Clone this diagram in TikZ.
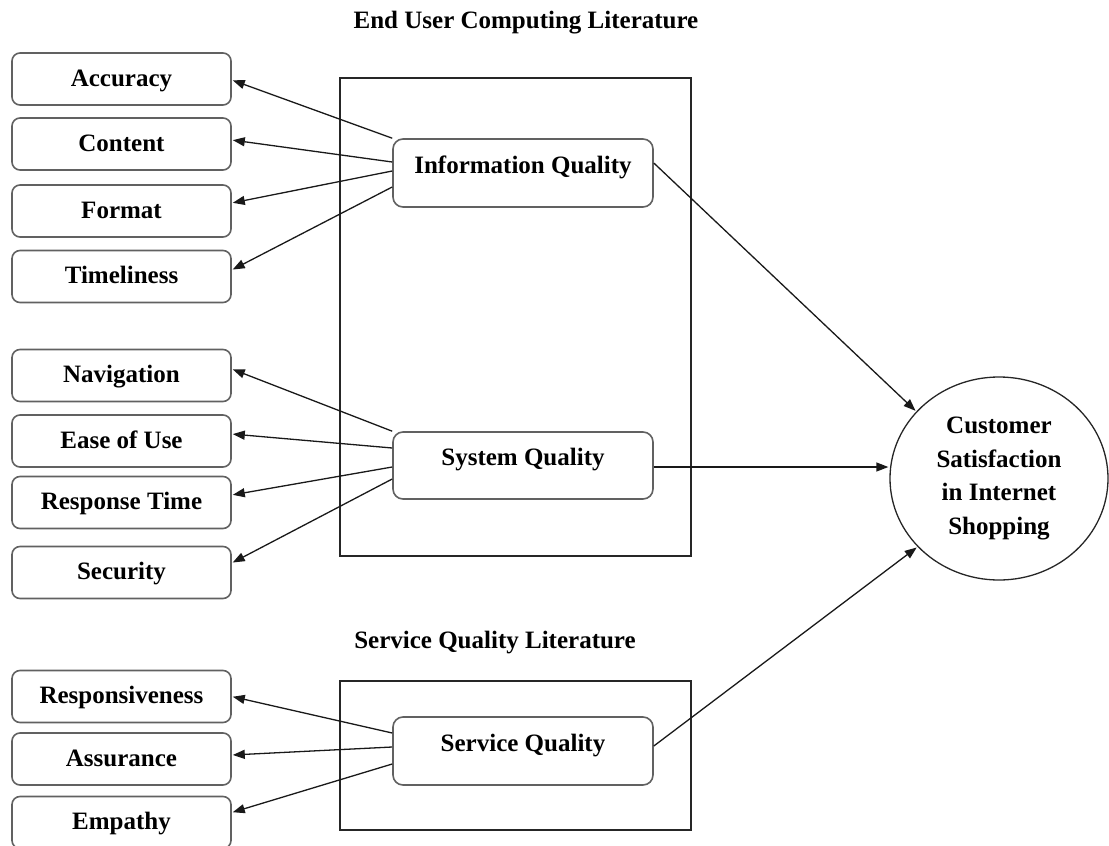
\documentclass[tikz,border=0pt]{standalone}
\usepackage{fontspec}
\setmainfont{Liberation Serif}
\usetikzlibrary{shapes.geometric,arrows.meta}
\begin{document}
\begin{tikzpicture}[x=1pt,y=-1pt,
  txt/.style={font=\fontsize{25}{33.5}\selectfont\bfseries},
  leaf/.style={txt, draw=black!62, line width=1.6pt, rounded corners=8pt,
    minimum width=219pt, minimum height=52pt, inner sep=0pt,
    text height=17pt, text depth=3pt},
  mid/.style={txt, draw=black!62, line width=1.6pt, rounded corners=10pt,
    minimum width=260pt, minimum height=68pt, inner sep=0pt,
    text height=10pt, text depth=10pt},
  frame/.style={draw=black!85, line width=1.5pt},
  arr/.style={draw=black!90, line width=1.3pt, -{Triangle[length=12pt,width=9pt]}, shorten >=1pt}
]
\useasboundingbox (0,0) rectangle (1109,846);

% titles
\node[txt, anchor=base] (t1) at (526,28) {End User Computing Literature};
\node[txt, anchor=base] (t2) at (495,648) {Service Quality Literature};

% frames
\draw[frame] (340,78) rectangle (691,556);
\draw[frame] (340,681) rectangle (691,830);

% left boxes
\node[leaf] (acc) at (121.5,79) {Accuracy};
\node[leaf] (con) at (121.5,144) {Content};
\node[leaf] (for) at (121.5,211) {Format};
\node[leaf] (tim) at (121.5,276.5) {Timeliness};
\node[leaf] (nav) at (121.5,375.5) {Navigation};
\node[leaf] (eas) at (121.5,441) {Ease of Use};
\node[leaf] (res) at (121.5,502.5) {Response Time};
\node[leaf] (sec) at (121.5,572.5) {Security};
\node[leaf] (rsp) at (121.5,696.5) {Responsiveness};
\node[leaf] (ass) at (121.5,759) {Assurance};
\node[leaf] (emp) at (121.5,822.5) {Empathy};

% middle nodes
\node[mid, fill=white] (iq) at (523,173) {Information Quality};
\node[mid, fill=white, minimum height=67pt] (sq) at (523,465.5) {System Quality};
\node[mid, fill=white] (svq) at (523,751) {Service Quality};

% customer satisfaction
\node[txt, ellipse, draw=black!85, line width=1.3pt, minimum width=218pt,
  minimum height=203pt, inner sep=0pt, align=center] (cs) at (999,478.5)
  {Customer\\Satisfaction\\in Internet\\Shopping};

% arrows to left boxes
\draw[arr] (iq.north west) -- ([yshift=-1pt]acc.east);
\draw[arr] ([yshift=11pt]iq.west) -- ([yshift=4pt]con.east);
\draw[arr] ([yshift=2pt]iq.west) -- ([yshift=8pt]for.east);
\draw[arr] ([yshift=-14pt]iq.west) -- ([yshift=6.5pt]tim.east);

\draw[arr] (sq.north west) -- ([yshift=6.5pt]nav.east);
\draw[arr] ([yshift=17.5pt]sq.west) -- ([yshift=7pt]eas.east);
\draw[arr] ([yshift=-1.5pt]sq.west) -- ([yshift=7.5pt]res.east);
\draw[arr] ([yshift=-13.5pt]sq.west) -- ([yshift=9.5pt]sec.east);

\draw[arr] ([yshift=18pt]svq.west) -- ([yshift=0pt]rsp.east);
\draw[arr] ([yshift=4pt]svq.west) -- ([yshift=4pt]ass.east);
\draw[arr] ([yshift=-13pt]svq.west) -- ([yshift=10pt]emp.east);

% arrows to customer satisfaction
\draw[arr] ([yshift=10pt]iq.east) -- (cs.141);
\draw[arr] ([yshift=-1.5pt]sq.east) -- ([yshift=-1.5pt]sq.east -| cs.west);
\draw[arr] ([yshift=5pt]svq.east) -- (cs.220.6);
\end{tikzpicture}
\end{document}
